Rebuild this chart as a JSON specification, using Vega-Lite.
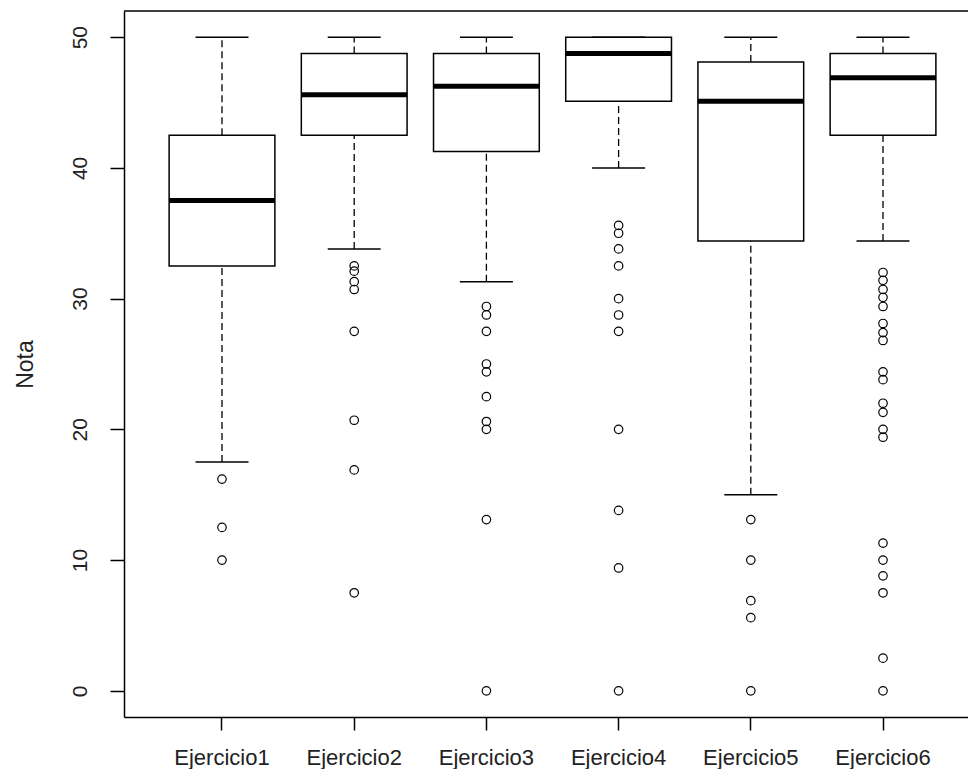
{
  "$schema": "https://vega.github.io/schema/vega-lite/v6.json",
  "width": 844,
  "height": 706,
  "autosize": {"type": "none"},
  "padding": {"left": 124, "top": 11, "right": 0, "bottom": 52},
  "background": "white",
  "config": {
    "view": {"stroke": null},
    "font": "Liberation Sans",
    "axis": {"grid": false, "domainColor": "black", "domainWidth": 1.5, "tickColor": "black", "tickWidth": 1.5, "labelColor": "#222", "titleColor": "#222", "labelFont": "Liberation Sans", "titleFont": "Liberation Sans", "titleFontWeight": "normal"}
  },
  "datasets": {
    "stats": [
      {"ejercicio": "Ejercicio1", "lower": 17.5, "q1": 32.5, "median": 37.5, "q3": 42.5, "upper": 50},
      {"ejercicio": "Ejercicio2", "lower": 33.8, "q1": 42.5, "median": 45.6, "q3": 48.75, "upper": 50},
      {"ejercicio": "Ejercicio3", "lower": 31.3, "q1": 41.25, "median": 46.25, "q3": 48.75, "upper": 50},
      {"ejercicio": "Ejercicio4", "lower": 40, "q1": 45.1, "median": 48.75, "q3": 50, "upper": 50},
      {"ejercicio": "Ejercicio5", "lower": 15, "q1": 34.4, "median": 45.1, "q3": 48.1, "upper": 50},
      {"ejercicio": "Ejercicio6", "lower": 34.4, "q1": 42.5, "median": 46.9, "q3": 48.75, "upper": 50}
    ],
    "outliers": [
      {"ejercicio": "Ejercicio1", "nota": 16.2},
      {"ejercicio": "Ejercicio1", "nota": 12.5},
      {"ejercicio": "Ejercicio1", "nota": 10},
      {"ejercicio": "Ejercicio2", "nota": 32.5},
      {"ejercicio": "Ejercicio2", "nota": 32.1},
      {"ejercicio": "Ejercicio2", "nota": 31.3},
      {"ejercicio": "Ejercicio2", "nota": 30.7},
      {"ejercicio": "Ejercicio2", "nota": 27.5},
      {"ejercicio": "Ejercicio2", "nota": 20.7},
      {"ejercicio": "Ejercicio2", "nota": 16.9},
      {"ejercicio": "Ejercicio2", "nota": 7.5},
      {"ejercicio": "Ejercicio3", "nota": 29.4},
      {"ejercicio": "Ejercicio3", "nota": 28.75},
      {"ejercicio": "Ejercicio3", "nota": 27.5},
      {"ejercicio": "Ejercicio3", "nota": 25},
      {"ejercicio": "Ejercicio3", "nota": 24.4},
      {"ejercicio": "Ejercicio3", "nota": 22.5},
      {"ejercicio": "Ejercicio3", "nota": 20.6},
      {"ejercicio": "Ejercicio3", "nota": 20},
      {"ejercicio": "Ejercicio3", "nota": 13.1},
      {"ejercicio": "Ejercicio3", "nota": 0},
      {"ejercicio": "Ejercicio4", "nota": 35.6},
      {"ejercicio": "Ejercicio4", "nota": 35},
      {"ejercicio": "Ejercicio4", "nota": 33.8},
      {"ejercicio": "Ejercicio4", "nota": 32.5},
      {"ejercicio": "Ejercicio4", "nota": 30},
      {"ejercicio": "Ejercicio4", "nota": 28.75},
      {"ejercicio": "Ejercicio4", "nota": 27.5},
      {"ejercicio": "Ejercicio4", "nota": 20},
      {"ejercicio": "Ejercicio4", "nota": 13.8},
      {"ejercicio": "Ejercicio4", "nota": 9.4},
      {"ejercicio": "Ejercicio4", "nota": 0},
      {"ejercicio": "Ejercicio5", "nota": 13.1},
      {"ejercicio": "Ejercicio5", "nota": 10},
      {"ejercicio": "Ejercicio5", "nota": 6.9},
      {"ejercicio": "Ejercicio5", "nota": 5.6},
      {"ejercicio": "Ejercicio5", "nota": 0},
      {"ejercicio": "Ejercicio6", "nota": 32},
      {"ejercicio": "Ejercicio6", "nota": 31.4},
      {"ejercicio": "Ejercicio6", "nota": 30.7},
      {"ejercicio": "Ejercicio6", "nota": 30.1},
      {"ejercicio": "Ejercicio6", "nota": 29.4},
      {"ejercicio": "Ejercicio6", "nota": 28.1},
      {"ejercicio": "Ejercicio6", "nota": 27.4},
      {"ejercicio": "Ejercicio6", "nota": 26.8},
      {"ejercicio": "Ejercicio6", "nota": 24.4},
      {"ejercicio": "Ejercicio6", "nota": 23.8},
      {"ejercicio": "Ejercicio6", "nota": 22},
      {"ejercicio": "Ejercicio6", "nota": 21.3},
      {"ejercicio": "Ejercicio6", "nota": 20},
      {"ejercicio": "Ejercicio6", "nota": 19.4},
      {"ejercicio": "Ejercicio6", "nota": 11.3},
      {"ejercicio": "Ejercicio6", "nota": 10},
      {"ejercicio": "Ejercicio6", "nota": 8.8},
      {"ejercicio": "Ejercicio6", "nota": 7.5},
      {"ejercicio": "Ejercicio6", "nota": 2.5},
      {"ejercicio": "Ejercicio6", "nota": 0}
    ],
    "frame": [{"top": 52}]
  },
  "layer": [
    {
      "data": {"name": "stats"},
      "mark": {"type": "rule", "color": "black", "strokeWidth": 1.3, "strokeDash": [7, 4], "opacity": 1},
      "encoding": {
        "x": {
          "field": "ejercicio",
          "type": "nominal",
          "sort": null,
          "scale": {"type": "band", "paddingInner": 0.2, "paddingOuter": 0.2921, "align": 0.5842, "round": false},
          "axis": {"title": null, "labelAngle": 0, "labelFontSize": 22, "tickSize": 13, "labelPadding": 34, "labelBaseline": "alphabetic", "labelAlign": "center"}
        },
        "y": {"field": "lower", "type": "quantitative", "scale": {"domain": [-2, 52], "nice": false, "zero": false},
          "axis": {"title": "Nota", "values": [0, 10, 20, 30, 40, 50], "labelAngle": -90, "labelAlign": "center", "labelBaseline": "alphabetic", "labelFontSize": 21, "tickSize": 14, "labelPadding": 24, "titleFontSize": 23, "titleAngle": -90, "titleBaseline": "alphabetic", "titleAlign": "center", "titleX": -92, "titleY": 353}},
        "y2": {"field": "q1"}
      }
    },
    {
      "data": {"name": "stats"},
      "mark": {"type": "rule", "color": "black", "strokeWidth": 1.3, "strokeDash": [7, 4], "opacity": 1},
      "encoding": {
        "x": {"field": "ejercicio", "type": "nominal", "sort": null},
        "y": {"field": "q3", "type": "quantitative"},
        "y2": {"field": "upper"}
      }
    },
    {
      "data": {"name": "stats"},
      "mark": {"type": "bar", "fill": "white", "stroke": "black", "strokeWidth": 1.5, "opacity": 1},
      "encoding": {
        "x": {"field": "ejercicio", "type": "nominal", "sort": null},
        "y": {"field": "q1", "type": "quantitative"},
        "y2": {"field": "q3"}
      }
    },
    {
      "data": {"name": "stats"},
      "mark": {"type": "tick", "color": "black", "thickness": 5, "size": 106, "orient": "horizontal", "opacity": 1},
      "encoding": {
        "x": {"field": "ejercicio", "type": "nominal", "sort": null},
        "y": {"field": "median", "type": "quantitative"}
      }
    },
    {
      "data": {"name": "stats"},
      "mark": {"type": "tick", "color": "black", "thickness": 1.5, "size": 53, "orient": "horizontal", "opacity": 1},
      "encoding": {
        "x": {"field": "ejercicio", "type": "nominal", "sort": null},
        "y": {"field": "lower", "type": "quantitative"}
      }
    },
    {
      "data": {"name": "stats"},
      "mark": {"type": "tick", "color": "black", "thickness": 1.5, "size": 53, "orient": "horizontal", "opacity": 1},
      "encoding": {
        "x": {"field": "ejercicio", "type": "nominal", "sort": null},
        "y": {"field": "upper", "type": "quantitative"}
      }
    },
    {
      "data": {"name": "outliers"},
      "mark": {"type": "point", "shape": "circle", "filled": false, "stroke": "black", "strokeWidth": 1.2, "size": 72, "opacity": 1},
      "encoding": {
        "x": {"field": "ejercicio", "type": "nominal", "sort": null},
        "y": {"field": "nota", "type": "quantitative"}
      }
    },
    {
      "data": {"name": "frame"},
      "mark": {"type": "rule", "color": "black", "strokeWidth": 1.5},
      "encoding": {
        "y": {"field": "top", "type": "quantitative"}
      }
    }
  ]
}
